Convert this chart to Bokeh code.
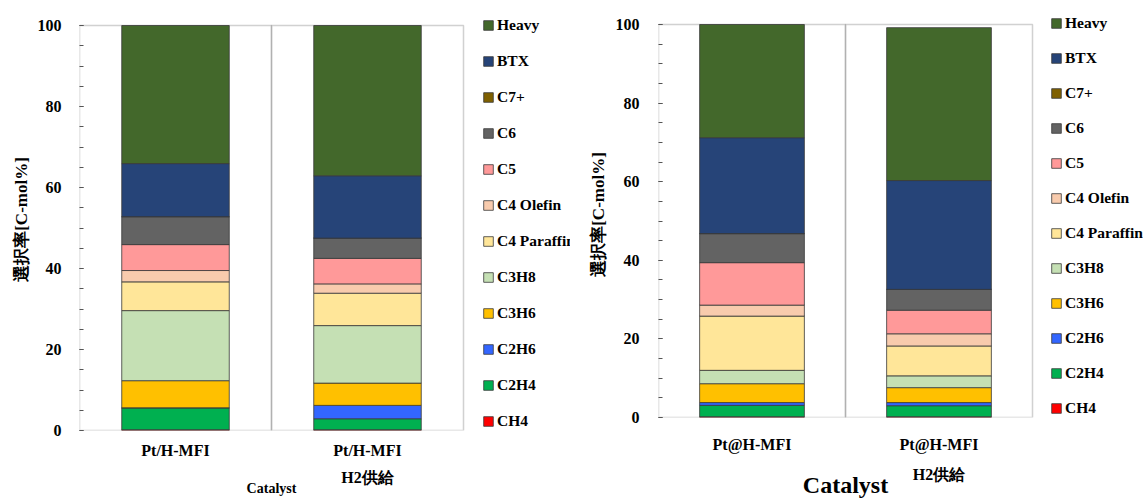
from bokeh.plotting import figure
from bokeh.models import (Legend, LegendItem, FixedTicker, ColumnDataSource,
                          LinearAxis, Range1d, BoxAnnotation)
from bokeh.layouts import row, column
from bokeh.embed import file_html
from bokeh.resources import INLINE

# ---- data ----
species = ["CH4", "C2H4", "C2H6", "C3H6", "C3H8", "C4 Paraffin", "C4 Olefin",
           "C5", "C6", "C7+", "BTX", "Heavy"]
colors = ["#FF0000", "#00B050", "#3366FF", "#FFC000", "#C5E0B4", "#FFE699",
          "#F8CBAD", "#FF9999", "#636363", "#7F6000", "#264478", "#43682B"]

# left chart (selectivity, C-mol%)
left_pt_hmfi = [0.2, 5.4, 0.0, 6.7, 17.3, 7.1, 2.8, 6.4, 6.9, 0.0, 13.1, 34.1]
left_pt_hmfi_h2 = [0.2, 2.7, 3.3, 5.5, 14.2, 8.0, 2.3, 6.3, 5.0, 0.0, 15.4, 37.1]
left_line1 = ["Pt/H-MFI", "Pt/H-MFI"]
left_line2 = ["", "H2供給"]

# right chart
right_pt_at_hmfi = [0.2, 2.9, 0.7, 4.8, 3.4, 13.8, 2.8, 10.8, 7.4, 0.0, 24.4, 28.8]
right_pt_at_hmfi_h2 = [0.2, 2.8, 0.8, 3.8, 3.0, 7.6, 3.1, 6.0, 5.3, 0.0, 27.7, 38.9]
right_line1 = ["Pt@H-MFI", "Pt@H-MFI"]
right_line2 = ["", "H2供給"]

y_ticks = [0, 20, 40, 60, 80, 100]
y_title = "選択率[C-mol%]"
x_title = "Catalyst"

SERIF = "Liberation Serif"


def make_chart(vals_a, vals_b, line1, line2, width, height,
               mb_left, mb_top, mb_bottom, y100_px, catw_px,
               tick_standoff, title_standoff,
               leg_dx, leg_dy, leg_spacing, sd1, sd2, sd3, cat_size):
    ncat = len(line1)
    xs = [i + 0.5 for i in range(ncat)]
    data = {"x": xs}
    for i, s in enumerate(species):
        data[s] = [vals_a[i], vals_b[i]]
    src = ColumnDataSource(data)

    frame_w = width - mb_left
    frame_h = height - mb_top - mb_bottom
    ymax_v = y_ticks[-1]
    # frame extends above the 100 line and to the right edge (legend area)
    y_end = ymax_v * frame_h / (frame_h - (y100_px - mb_top))
    x_end = frame_w / catw_px

    p = figure(x_range=Range1d(0, x_end), y_range=Range1d(0, y_end),
               width=width, height=height,
               output_backend="svg", toolbar_location=None,
               min_border_left=mb_left, min_border_right=0,
               min_border_top=mb_top, min_border_bottom=mb_bottom)
    p.xgrid.visible = False
    p.ygrid.visible = False
    p.outline_line_color = None
    p.background_fill_color = "white"
    p.border_fill_color = "white"

    # plot-area boxes (one per category, giving the divider line)
    for i in range(ncat):
        p.add_layout(BoxAnnotation(left=i, right=i + 1, bottom=0, top=ymax_v,
                                   fill_alpha=0, line_color="#666666",
                                   line_width=1.5, level="underlay"))

    rs = p.vbar_stack(species, x="x", width=0.56, source=src,
                      fill_color=colors, line_color="#383838", line_width=0.8)

    # y axis
    ax = p.yaxis[0]
    ax.ticker = FixedTicker(ticks=y_ticks, minor_ticks=list(range(0, 101, 5)))
    ax.axis_line_color = None
    ax.major_tick_in = 4
    ax.major_tick_out = 0
    ax.minor_tick_in = 4
    ax.minor_tick_out = 0
    ax.major_tick_line_color = "#555555"
    ax.minor_tick_line_color = "#555555"
    ax.major_label_standoff = tick_standoff
    ax.major_label_text_font = SERIF
    ax.major_label_text_font_style = "bold"
    ax.major_label_text_font_size = "16px"
    ax.major_label_text_color = "black"
    ax.axis_label = y_title
    ax.axis_label_standoff = title_standoff
    ax.axis_label_text_font = SERIF
    ax.axis_label_text_font_style = "bold"
    ax.axis_label_text_font_size = "17px"
    ax.axis_label_text_color = "black"

    def style_x(a, ticks, labels, standoff, size):
        a.ticker = FixedTicker(ticks=ticks)
        a.major_label_overrides = {t: l for t, l in zip(ticks, labels)}
        a.axis_line_color = None
        a.major_tick_line_color = None
        a.minor_tick_line_color = None
        a.major_tick_out = 0
        a.major_tick_in = 0
        a.major_label_standoff = standoff
        a.major_label_text_font = SERIF
        a.major_label_text_font_style = "bold"
        a.major_label_text_font_size = size
        a.major_label_text_color = "black"

    # first line of category labels
    style_x(p.xaxis[0], xs, line1, sd1, "16px")
    # second line of category labels
    t2 = [x for x, l in zip(xs, line2) if l]
    l2 = [l for l in line2 if l]
    xb = LinearAxis()
    style_x(xb, t2, l2, sd2, "16px")
    p.add_layout(xb, "below")
    # axis title centred on the plot box
    xc = LinearAxis()
    style_x(xc, [ncat / 2], [x_title], sd3, cat_size)
    p.add_layout(xc, "below")

    items = [LegendItem(label=s, renderers=[r])
             for s, r in zip(reversed(species), reversed(rs))]
    leg = Legend(items=items, location=(leg_dx, leg_dy), padding=0, margin=0,
                 spacing=leg_spacing, glyph_width=12, glyph_height=12,
                 label_height=12, label_standoff=3,
                 label_text_font=SERIF, label_text_font_style="bold",
                 label_text_font_size="15.5px", label_text_color="black",
                 border_line_color=None, background_fill_alpha=0)
    p.add_layout(leg, "center")
    return p


p1 = make_chart(left_pt_hmfi, left_pt_hmfi_h2, left_line1, left_line2,
                570, 500, 79, 8, 70, 25, 192, 18, 4,
                403, 0, 18, 11, 7, -8, "14px")
p2 = make_chart(right_pt_at_hmfi, right_pt_at_hmfi_h2, right_line1, right_line2,
                573, 500, 88, 11, 83, 24, 187, 19, 5,
                392, 0, 17, 18, 10, -14, "24px")

layout = row(column(p1), column(p2))
open("out.html", "w").write(file_html(layout, INLINE))
